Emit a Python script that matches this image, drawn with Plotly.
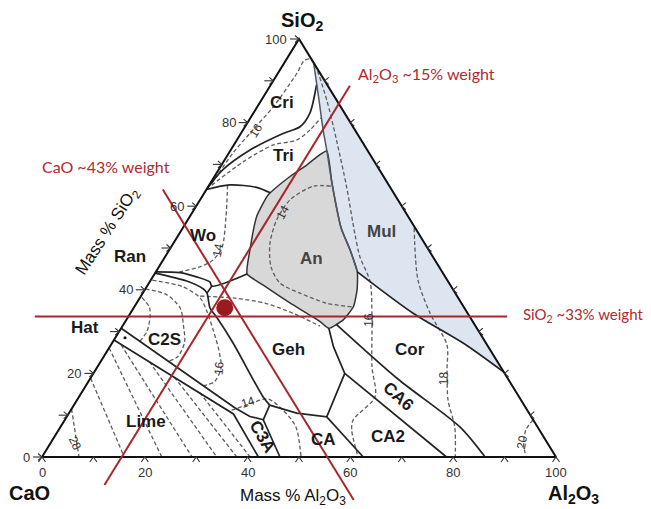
import plotly.graph_objects as go

# ---------------- data : compositions are (Al2O3 mass %, SiO2 mass %), CaO = remainder -------------
axis_tick_values = [0, 10, 20, 30, 40, 50, 60, 70, 80, 90, 100]
axis_label_values = [0, 20, 40, 60, 80, 100]
axis_label_text = ["0", "20", "40", "60", "80", "100"]

triangle_outline = [(0, 0), (100, 0), (0, 100), (0, 0)]

anorthite_field = [(12.8, 63.2), (14.7, 67.1), (16.6, 69.9), (17.7, 72.0), (18.8, 73.2), (23.6, 65.6),
                   (30.8, 54.8), (35.2, 49.5), (39.2, 44.3), (41.3, 40.0), (42.6, 36.0), (42.2, 32.8),
                   (40.4, 30.8), (37.9, 32.4), (29.9, 36.8), (22.5, 41.1), (18.0, 43.8), (15.7, 49.5),
                   (13.0, 57.5), (12.6, 62.3), (12.8, 63.2)]

mullite_field = [(5.7, 94.3), (79.7, 20.3), (68.4, 27.2), (55.0, 34.4), (39.2, 44.3), (35.2, 49.5),
                 (30.8, 54.8), (23.6, 65.6), (18.7, 73.4), (15.6, 78.2), (10.7, 86.2), (5.7, 94.3)]

mul_left_boundary = [(5.7, 94.3), (10.7, 86.2), (15.6, 78.2), (18.7, 73.4), (23.6, 65.6), (30.8, 54.8),
                     (35.2, 49.5), (39.2, 44.3)]
mul_cor_boundary = [(39.2, 44.3), (55.0, 34.4), (68.4, 27.2), (79.7, 20.3)]

# solid field boundaries
cri_tri = [(8.9, 89.0), (11.0, 82.2), (10.7, 79.0), (8.2, 77.4), (3.7, 73.4), (0.8, 68.7), (0.0, 64.0)]
tri_wo = [(0.0, 64.0), (4.0, 65.1), (9.5, 64.5), (12.8, 63.2)]
wo_ran = [(0.0, 44.3), (4.8, 44.1), (8.5, 43.1), (11.7, 41.9), (12.6, 40.9), (18.0, 43.8)]
ran_c2s_geh = [(0.0, 44.0), (7.1, 42.1), (11.3, 40.2), (12.5, 39.2), (14.9, 35.6), (17.4, 33.3),
               (23.6, 27.2), (35.8, 14.4), (38.1, 12.4)]
junction_link = [(12.6, 40.9), (12.5, 39.2)]
geh_lower = [(38.1, 12.4), (44.3, 10.5), (50.6, 9.6), (48.9, 20.0), (43.5, 26.4), (40.4, 30.8)]
cor_ca6 = [(41.3, 31.8), (60.0, 18.6), (77.7, 7.2), (86.2, 0.0)]
ca6_ca2 = [(48.9, 20.0), (78.7, 0.0)]
ca_ca2 = [(50.6, 9.6), (62.5, 0.0)]
c3a_ca = [(38.1, 12.4), (38.6, 8.9), (46.3, 0.0)]
c2s_upper = [(0.0, 30.8), (31.6, 11.8), (35.6, 9.7), (38.6, 8.9)]
c2s_lime = [(0.0, 28.0), (32.1, 10.3), (42.1, 0.0)]
hatrurite_point = (1.9, 28.5)

# dashed isotherms
iso16_main = [(0.3, 65.3), (0.8, 72.7), (1.9, 78.2), (3.1, 83.7), (3.7, 91.9), (3.6, 94.8), (4.6, 95.2),
              (6.2, 93.8), (12.7, 85.4), (19.4, 75.8), (26.9, 64.7), (34.1, 53.5), (37.9, 47.9),
              (42.9, 41.9), (47.4, 33.6), (53.4, 21.6), (57.6, 14.4), (56.1, 8.9), (57.0, 6.5), (61.5, 0.0)]
iso_tri = [(0.5, 65.0), (3.8, 70.6), (7.6, 74.6), (11.6, 75.8), (13.0, 78.2), (13.7, 81.1)]
iso14_wo = [(3.6, 65.0), (7.1, 57.4), (10.0, 50.0), (9.7, 47.1), (8.0, 45.5), (4.6, 44.3)]
iso14_an = [(23.8, 64.8), (20.4, 64.8), (17.5, 61.5), (17.3, 56.7), (18.8, 51.1), (21.8, 45.5),
            (25.5, 41.6), (30.6, 39.2), (37.0, 36.8), (42.4, 35.9)]
iso_geh_upper = [(11.5, 38.5), (18.5, 38.0), (25.0, 36.8), (32.1, 34.2), (38.4, 31.3)]
iso16_c2s = [(0.3, 42.3), (7.1, 40.7), (11.8, 38.0), (14.7, 34.8), (18.1, 30.4), (21.6, 25.6),
             (24.2, 21.3), (24.5, 17.9), (22.4, 17.0)]
iso_c2s_b = [(0.0, 40.2), (4.9, 38.8), (9.1, 35.6), (11.7, 31.6), (14.0, 27.5), (14.4, 24.0), (13.2, 22.9)]
iso_c2s_a = [(0.3, 38.2), (3.0, 35.8), (4.4, 33.2), (5.4, 30.0), (5.2, 27.6)]
iso14_low = [(31.3, 11.2), (34.1, 12.7), (37.0, 13.9), (41.3, 11.2), (45.8, 7.2), (50.4, 0.0)]
iso18 = [(45.0, 54.8), (52.0, 42.3), (58.3, 34.4), (65.4, 26.8), (68.4, 20.8), (72.2, 13.6), (76.7, 7.2), (80.4, 0.0)]
iso20 = [(91.1, 8.9), (90.9, 6.5), (92.2, 3.0), (94.2, 0.0)]
lime_isotherms = [[(0.0, 11.5), (7.2, 0.0)], [(0.0, 18.9), (16.0, 0.0)], [(0.0, 26.1), (23.3, 0.0)],
                  [(2.0, 26.8), (29.2, 0.0)], [(9.5, 22.8), (34.0, 0.0)], [(16.2, 19.1), (37.9, 0.0)],
                  [(23.0, 15.4), (40.5, 0.0)]]

isotherm_labels = ["16", "14", "14", "16", "14", "16", "18", "20", "28"]
isotherm_label_pos = [(2.6, 78.2), (9.5, 49.5), (17.6, 58.6), (23.8, 21.3), (33.5, 13.2),
                      (47.2, 32.8), (68.8, 18.9), (91.6, 3.6), (4.7, 3.3)]
isotherm_label_angle = [-58, -78, -62, -85, -18, -90, -90, -80, 65]

region_names = ["Cri", "Tri", "Wo", "An", "Mul", "Ran", "Hat", "C2S", "Geh", "Lime",
                "C3A", "CA", "CA2", "CA6", "Cor"]
region_label_pos = [(4.2, 84.9), (10.8, 72.2), (4.8, 53.1), (28.7, 47.5), (39.1, 53.9), (-6.8, 47.9),
                    (-7.1, 30.9), (9.9, 28.0), (35.1, 25.6), (16.1, 8.4), (40.4, 4.8), (52.7, 4.1),
                    (64.9, 4.9), (62.1, 14.4), (58.8, 25.6)]
region_label_angle = [0, 0, 0, 0, 0, 0, 0, 0, 0, 0, 60, 0, 0, 42, 0]

# red guide lines (constant composition) and sample
sio2_level = 33.6
sio2_line_al2o3_span = (-18.2, 73.7)
cao_level = 44.5
cao_line_sio2_span = (64.0, -10.3)
al2o3_level = 15.5
al2o3_line_sio2_span = (88.8, -6.7)
sample_point = (17.7, 35.7)

# ---------------- helpers ----------------
def cart(points):
    xs, ys = [], []
    for p in points:
        if p is None:
            xs.append(None); ys.append(None)
        else:
            a, s = p
            xs.append(a + s / 2.0); ys.append(s)
    return xs, ys

fig = go.Figure()

def line(points, color, width, dash=None, shape="linear"):
    xs, ys = cart(points)
    fig.add_trace(go.Scatter(x=xs, y=ys, mode="lines", hoverinfo="skip",
                             line=dict(color=color, width=width, dash=dash, shape=shape,
                                       smoothing=0.8 if shape == "spline" else None)))

# fills
xs, ys = cart(mullite_field)
fig.add_trace(go.Scatter(x=xs, y=ys, mode="lines", fill="toself", fillcolor="#dde5f1",
                         line=dict(width=0), hoverinfo="skip"))
xs, ys = cart(anorthite_field)
fig.add_trace(go.Scatter(x=xs, y=ys, mode="lines", fill="toself", fillcolor="#d8d8d8",
                         line=dict(color="#333333", width=1.5, shape="spline", smoothing=0.5),
                         hoverinfo="skip"))

# dashed isotherms
DASH = "4px,2.5px"
DCOL = "#5c5c5c"
for pts in [iso16_main, iso_tri, iso14_wo, iso14_an, iso_geh_upper, iso16_c2s, iso_c2s_b,
            iso_c2s_a, iso14_low, iso18, iso20]:
    line(pts, DCOL, 1.3, DASH, "spline")
for pts in lime_isotherms:
    line(pts, DCOL, 1.3, DASH)

# solid boundaries
SCOL = "#232323"
SW = 1.7
line(cri_tri, SCOL, SW, shape="spline")
line(tri_wo, SCOL, SW, shape="spline")
line(wo_ran, SCOL, SW, shape="spline")
line(ran_c2s_geh, SCOL, SW, shape="spline")
line(junction_link, SCOL, SW)
line(geh_lower, SCOL, SW)
line(cor_ca6, SCOL, SW, shape="spline")
line(ca6_ca2, SCOL, SW)
line(ca_ca2, SCOL, SW)
line(c3a_ca, SCOL, SW)
line(c2s_upper, SCOL, SW)
line(c2s_lime, SCOL, SW)
line(mul_left_boundary, "#4f5966", 1.5, shape="spline")
line(mul_cor_boundary, SCOL, SW, shape="spline")
line(triangle_outline, "#111111", 2.0)

xs, ys = cart([hatrurite_point])
fig.add_trace(go.Scatter(x=xs, y=ys, mode="markers", marker=dict(color="#111", size=3), hoverinfo="skip"))

# tick chevrons
PXX, PXY = 100 / 514.0, 100 / 418.0
tx, ty = [], []
def seg(pts):
    for x, y in pts:
        tx.append(x); ty.append(y)
    tx.append(None); ty.append(None)
for t in axis_tick_values:
    x0, y0 = t / 2.0, t
    seg([(x0 - 9 * PXX, y0), (x0, y0)])
    seg([(x0 - 4 * PXX, y0 + 3.5 * PXY), (x0, y0), (x0 - 4 * PXX, y0 - 3.5 * PXY)])
    x0, y0 = t, 0
    seg([(x0 - 3.5 * PXX, y0 - 5 * PXY), (x0, y0), (x0 + 3.5 * PXX, y0 - 5 * PXY)])
    if 0 < t < 100:
        x0, y0 = 100 - t / 2.0, t
        seg([(x0 + 4 * PXX, y0 + 3.5 * PXY), (x0, y0), (x0 + 4 * PXX, y0 - 3.5 * PXY)])
fig.add_trace(go.Scatter(x=tx, y=ty, mode="lines", line=dict(color="#333", width=1.1), hoverinfo="skip"))

# red guide lines
RED = "#a6262b"
line([(sio2_line_al2o3_span[0], sio2_level), (sio2_line_al2o3_span[1], sio2_level)], RED, 2.0)
line([(100 - cao_level - s, s) for s in cao_line_sio2_span], RED, 2.0)
line([(al2o3_level, s) for s in al2o3_line_sio2_span], RED, 2.0)
xs, ys = cart([sample_point])
fig.add_trace(go.Scatter(x=xs, y=ys, mode="markers", marker=dict(color="#9a1a1d", size=17),
                         hoverinfo="skip"))

# ---------------- annotations ----------------
# the page body adds an 8px margin; figure is sized to fit inside the 651x509 window
OFF = 8
FW, FH = 651 - OFF, 509 - OFF
ann = []
FONT = "Liberation Sans, Arial, sans-serif"
for v, txt in zip(axis_label_values, axis_label_text):
    ann.append(dict(x=v / 2.0, y=v, xref="x", yref="y", text=txt, showarrow=False, xanchor="right",
                    yanchor="middle", xshift=-10, font=dict(family=FONT, size=13, color="#333")))
    ann.append(dict(x=v, y=0, xref="x", yref="y", text=txt, showarrow=False, xanchor="center",
                    yanchor="top", yshift=-6, font=dict(family=FONT, size=13, color="#333")))

for txt, (a, s), ang in zip(isotherm_labels, isotherm_label_pos, isotherm_label_angle):
    ann.append(dict(x=a + s / 2.0, y=s, xref="x", yref="y", text=txt, showarrow=False, textangle=ang,
                    xanchor="center", yanchor="middle",
                    font=dict(family=FONT, size=12, color="#333")))

for txt, (a, s), ang in zip(region_names, region_label_pos, region_label_angle):
    col = "#444" if txt in ("An", "Mul") else "#1a1a1a"
    ann.append(dict(x=a + s / 2.0, y=s, xref="x", yref="y", text="<b>" + txt + "</b>", showarrow=False,
                    textangle=ang, xanchor="center", yanchor="middle",
                    font=dict(family=FONT, size=17, color=col)))

def pann(px, py, text, size, color="#111", angle=0, family=FONT):
    ann.append(dict(x=(px - OFF) / FW, y=1 - (py - OFF) / FH, xref="paper", yref="paper", text=text,
                    showarrow=False, textangle=angle, xanchor="center", yanchor="middle",
                    font=dict(family=family, size=size, color=color)))

pann(302, 22, "<b>SiO<sub>2</sub></b>", 20)
pann(29, 493, "<b>CaO</b>", 20)
pann(573, 494, "<b>Al<sub>2</sub>O<sub>3</sub></b>", 20)
pann(293, 497, "Mass % Al<sub>2</sub>O<sub>3</sub>", 17)
pann(108, 232, "Mass % SiO<sub>2</sub>", 17, angle=-57)

RT = "#b02a2e"
pann(106, 167, "CaO ~43% weight", 16, RT, family="Lato, sans-serif")
pann(426, 75, "Al<sub>2</sub>O<sub>3</sub> ~15% weight", 16, RT, family="Lato, sans-serif")
pann(583, 315, "SiO<sub>2</sub> ~33% weight", 15, RT, family="Lato, sans-serif")

# axis ranges: reference pixel px maps to X = (px-42)/5.14, py maps to Y = (457-py)/4.18
x_lo, x_hi = (OFF - 42) / 5.14, (651 - 42) / 5.14
y_hi, y_lo = (457 - OFF) / 4.18, (457 - 509) / 4.18

fig.update_layout(
    width=FW, height=FH, margin=dict(l=0, r=0, t=0, b=0),
    paper_bgcolor="white", plot_bgcolor="white", showlegend=False,
    xaxis=dict(range=[x_lo, x_hi], visible=False, fixedrange=True),
    yaxis=dict(range=[y_lo, y_hi], visible=False, fixedrange=True),
    annotations=ann,
)
fig.write_html("out.html")
